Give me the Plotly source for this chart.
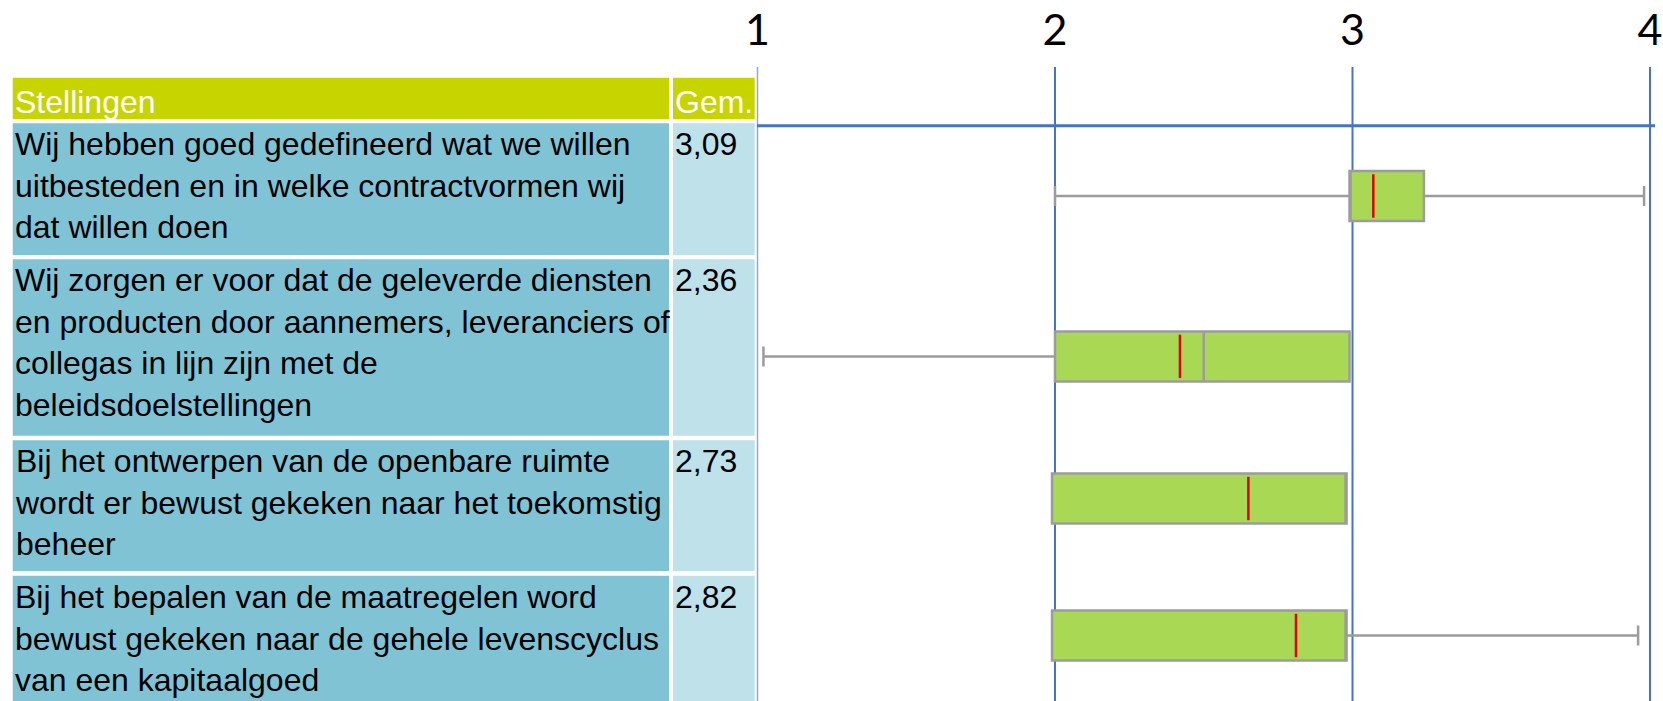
import plotly.graph_objects as go

# ---------------- data ----------------
statements = [
    "Wij hebben goed gedefineerd wat we willen<br>uitbesteden en in welke contractvormen wij<br>dat willen doen",
    "Wij zorgen er voor dat de geleverde diensten<br>en producten door aannemers, leveranciers of<br>collegas in lijn zijn met de<br>beleidsdoelstellingen",
    "Bij het ontwerpen van de openbare ruimte<br>wordt er bewust gekeken naar het toekomstig<br>beheer",
    "Bij het bepalen van de maatregelen word<br>bewust gekeken naar de gehele levenscyclus<br>van een kapitaalgoed",
]
gem_labels = ["3,09", "2,36", "2,73", "2,82"]
header_labels = ["Stellingen", "Gem."]

lower_fence = [2.00, 1.02, 1.99, 1.99]
q1 = [2.99, 2.00, 1.99, 1.99]
median = [2.99, 2.50, 2.98, 2.98]
q3 = [3.24, 2.99, 2.98, 2.98]
upper_fence = [3.98, 2.99, 2.98, 3.96]
mean_pos = [3.07, 2.42, 2.65, 2.81]

tick_vals = [1, 2, 3, 4]
tick_text = ["1", "2", "3", "4"]

# ---------------- layout constants (page pixels) ----------------
W, H = 1663, 701
TOP = 67                      # page y where the plot area starts
PX_AT_1, PX_PER_UNIT = 757.5, 297.5
x_lo = 1 - PX_AT_1 / PX_PER_UNIT
x_hi = 1 + (W - PX_AT_1) / PX_PER_UNIT

BOX_Y = [196, 356.4, 498.5, 635.5]
BOX_H = 50
ROWS = [(123.3, 255), (259.3, 435.7), (440.3, 571), (575.7, 705)]
HEADER = (77.7, 119.3)
COL1 = (12.7, 669)
COL2 = (673, 754.7)

HEADER_BG = "#c8d400"
DARK = "#80c3d5"
LIGHT = "#bfe1ea"
GRID_BLUE = "#4674c2"
TEXT_FONT = "Liberation Sans, Arial, sans-serif"


def px(x):
    return x / W


fig = go.Figure()

fig.add_trace(go.Box(
    orientation="h",
    y=BOX_Y,
    lowerfence=lower_fence,
    q1=q1,
    median=median,
    q3=q3,
    upperfence=upper_fence,
    width=BOX_H,
    whiskerwidth=0.4,
    fillcolor="#a8d854",
    line=dict(color="#9c9c9c", width=2.5),
    boxpoints=False,
    hoverinfo="skip",
    showlegend=False,
))

fig.add_trace(go.Scatter(
    x=mean_pos,
    y=BOX_Y,
    mode="markers",
    marker=dict(symbol="line-ns", size=31,
                line=dict(color="#e00000", width=2.5)),
    hoverinfo="skip",
    showlegend=False,
))

shapes = []
for t in tick_vals:
    shapes.append(dict(type="line", xref="x", yref="paper", x0=t, x1=t, y0=0, y1=1,
                       line=dict(color="#8eaadb" if t == 1 else GRID_BLUE,
                                 width=1.5 if t == 1 else 2),
                       layer="below"))
shapes.append(dict(type="line", xref="paper", yref="y", x0=px(757), x1=px(1655),
                   y0=125.7, y1=125.7, line=dict(color=GRID_BLUE, width=3), layer="below"))


def rect(x0, x1, y0, y1, color):
    return dict(type="rect", xref="paper", yref="y", x0=px(x0), x1=px(x1), y0=y0, y1=y1,
                fillcolor=color, line=dict(width=0), layer="below")


shapes.append(rect(COL1[0], COL1[1], HEADER[0], HEADER[1], HEADER_BG))
shapes.append(rect(COL2[0], COL2[1], HEADER[0], HEADER[1], HEADER_BG))
for (y0, y1) in ROWS:
    shapes.append(rect(COL1[0], COL1[1], y0, y1, DARK))
    shapes.append(rect(COL2[0], COL2[1], y0, y1, LIGHT))

annotations = []
for lab, xx in zip(header_labels, [13.3, 672.5]):
    annotations.append(dict(text=lab, xref="paper", yref="y", x=px(xx), y=HEADER[0] + 4,
                            xanchor="left", yanchor="top", showarrow=False, align="left",
                            font=dict(family=TEXT_FONT, size=32, color="white")))
for (y0, y1), s, g in zip(ROWS, statements, gem_labels):
    annotations.append(dict(text=s, xref="paper", yref="y", x=px(13.3), y=y0 + 1,
                            xanchor="left", yanchor="top", showarrow=False, align="left",
                            font=dict(family=TEXT_FONT, size=32, color="black")))
    annotations.append(dict(text=g, xref="paper", yref="y", x=px(672.5), y=y0 + 1,
                            xanchor="left", yanchor="top", showarrow=False, align="left",
                            font=dict(family=TEXT_FONT, size=32, color="black")))

fig.update_layout(
    width=W, height=H,
    margin=dict(l=0, r=0, t=TOP, b=0, pad=0),
    paper_bgcolor="white", plot_bgcolor="white",
    shapes=shapes, annotations=annotations,
    hovermode=False,
    xaxis=dict(range=[x_lo, x_hi], side="top", tickvals=tick_vals, ticktext=tick_text,
               showgrid=False, zeroline=False, showline=False, ticks="",
               ticklabelstandoff=12, fixedrange=True,
               tickfont=dict(family="Lato, sans-serif", size=43, color="black")),
    yaxis=dict(range=[H, TOP], visible=False, showgrid=False, zeroline=False,
               fixedrange=True),
)

fig.write_html(
    "out.html",
    config={"displayModeBar": False, "staticPlot": True},
    post_script="document.body.style.margin='0';document.body.style.overflow='hidden';",
)
